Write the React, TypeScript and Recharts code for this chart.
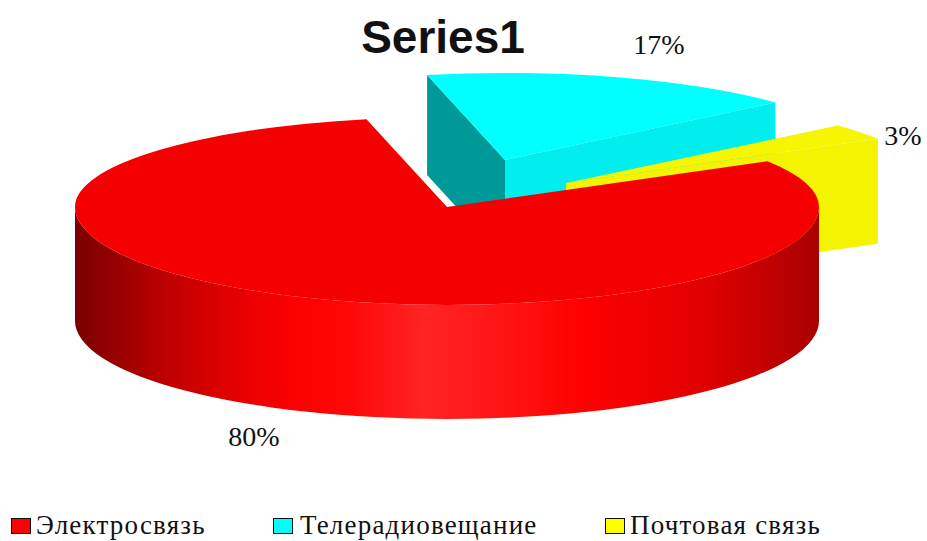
import React from "react";
import { PieChart, Pie, Legend } from "recharts";

const categories = ["Телерадиовещание", "Почтовая связь", "Электросвязь"];
const shares = [17, 3, 80];
const legendOrder = ["Электросвязь", "Телерадиовещание", "Почтовая связь"];
const chartTitle = "Series1";

const data = categories.map((name, i) => ({ name, value: shares[i] }));

type Look = {
  dx: number; dy: number; rx: number; ry: number; ryBack: number; depth: number;
  top: string; startWall: string; endWall: string; swatch: string;
  labelX: number; labelY: number; legendX: number; textX: number;
};

const looks: Record<string, Look> = {
  "Телерадиовещание": {
    dx: 58, dy: -47, rx: 360, ry: 87, ryBack: 87, depth: 100,
    top: "#00FFFF", startWall: "#009999", endWall: "#00EEEE", swatch: "#00FFFF",
    labelX: 659, labelY: 54, legendX: 273, textX: 300,
  },
  "Почтовая связь": {
    dx: 119, dy: -24, rx: 362, ry: 87, ryBack: 87, depth: 105,
    top: "#F6F600", startWall: "#F4F400", endWall: "#F4F400", swatch: "#FFFF00",
    labelX: 903, labelY: 145, legendX: 605, textX: 630,
  },
  "Электросвязь": {
    dx: 0, dy: 0, rx: 372, ry: 98, ryBack: 90, depth: 114,
    top: "#F50000", startWall: "#F50000", endWall: "#F50000", swatch: "#FF0000",
    labelX: 254, labelY: 446, legendX: 11, textX: 36,
  },
};

const rimStops: [number, string][] = [
  [0, "#7A0000"],
  [0.12, "#BC0000"],
  [0.2, "#E00000"],
  [0.29, "#FB0000"],
  [0.37, "#FF0808"],
  [0.47, "#FF2424"],
  [0.6, "#FF1010"],
  [0.68, "#FF0000"],
  [0.85, "#E00000"],
  [1, "#A80000"],
];

const rad = (a: number) => (a * Math.PI) / 180;

function Sector3D(props: any) {
  const look = looks[props.name];
  const { startAngle, endAngle, cx, cy } = props;
  const ax = cx + look.dx;
  const ay = cy + look.dy;
  const { rx, ry, ryBack, depth } = look;
  const px = (a: number) => ax + rx * Math.cos(rad(a));
  const py = (a: number) => {
    const s = Math.sin(rad(a));
    return ay - (s > 0 ? ryBack : ry) * s;
  };
  const sx = px(startAngle), sy = py(startAngle);
  const ex = px(endAngle), ey = py(endAngle);
  const wall = (x: number, y: number) =>
    `M${ax},${ay} L${x},${y} L${x},${y + depth} L${ax},${ay + depth} Z`;
  const isRim = Math.abs(startAngle - endAngle) > 180;
  const arc = isRim
    ? `A${rx},${ryBack} 0 0 1 ${ax + rx},${ay} A${rx},${ry} 0 0 1 ${ax - rx},${ay} A${rx},${ryBack} 0 0 1 ${ex},${ey}`
    : `A${rx},${ry} 0 0 1 ${ex},${ey}`;
  return (
    <g>
      {isRim && (
        <>
          <defs>
            <linearGradient id="rimShade" gradientUnits="userSpaceOnUse" x1={ax - rx} x2={ax + rx} y1={0} y2={0}>
              {rimStops.map(([o, c]) => (
                <stop key={o} offset={o} stopColor={c} />
              ))}
            </linearGradient>
          </defs>
          <path
            d={`M${ax + rx},${ay} A${rx},${ry} 0 0 1 ${ax - rx},${ay} L${ax - rx},${ay + depth} A${rx},${ry} 0 0 0 ${ax + rx},${ay + depth} Z`}
            fill="url(#rimShade)"
          />
        </>
      )}
      {sx < ax && <path d={wall(sx, sy)} fill={look.startWall} />}
      {ex > ax && !isRim && <path d={wall(ex, ey)} fill={look.endWall} />}
      <path d={`M${ax},${ay} L${sx},${sy} ${arc} Z`} fill={look.top} />
    </g>
  );
}

function renderLabel(props: any) {
  const look = looks[props.name];
  return (
    <text
      x={look.labelX}
      y={look.labelY}
      textAnchor="middle"
      fontFamily="'Liberation Serif', serif"
      fontSize={28}
      fill="#111"
    >
      {Math.round(props.percent * 100)}%
    </text>
  );
}

function LegendRow() {
  return (
    <div style={{ position: "relative", width: 927, height: 31 }}>
      {legendOrder.map((name) => {
        const look = looks[name];
        return (
          <React.Fragment key={name}>
            <div
              style={{
                position: "absolute",
                left: look.legendX,
                top: 8,
                width: 18,
                height: 14,
                background: look.swatch,
                border: "1.5px solid #111",
              }}
            />
            <div
              style={{
                position: "absolute",
                left: look.textX,
                top: 0,
                fontFamily: "'Liberation Serif', serif",
                fontSize: 27,
                letterSpacing: "1.2px",
                lineHeight: "31px",
                color: "#111",
                whiteSpace: "nowrap",
              }}
            >
              {name}
            </div>
          </React.Fragment>
        );
      })}
    </div>
  );
}

export default function App() {
  return (
    <div style={{ position: "absolute", left: 0, top: 0, width: 927, height: 541, background: "#fff" }}>
      <PieChart width={927} height={541} margin={{ top: 0, right: 0, bottom: 0, left: 0 }}>
        <text
          x={443}
          y={53}
          textAnchor="middle"
          fontFamily="'Liberation Sans', Arial, sans-serif"
          fontWeight="bold"
          fontSize={46}
          fill="#111"
        >
          {chartTitle}
        </text>
        <Pie
          data={data}
          dataKey="value"
          nameKey="name"
          cx={447}
          cy={207}
          outerRadius={372}
          startAngle={102.5}
          endAngle={-257.5}
          paddingAngle={0}
          shape={Sector3D}
          label={renderLabel}
          labelLine={false}
          isAnimationActive={false}
        />
        <Legend
          verticalAlign="bottom"
          content={<LegendRow />}
          wrapperStyle={{ position: "absolute", left: 0, top: 510, width: 927, height: 31 }}
        />
      </PieChart>
    </div>
  );
}
